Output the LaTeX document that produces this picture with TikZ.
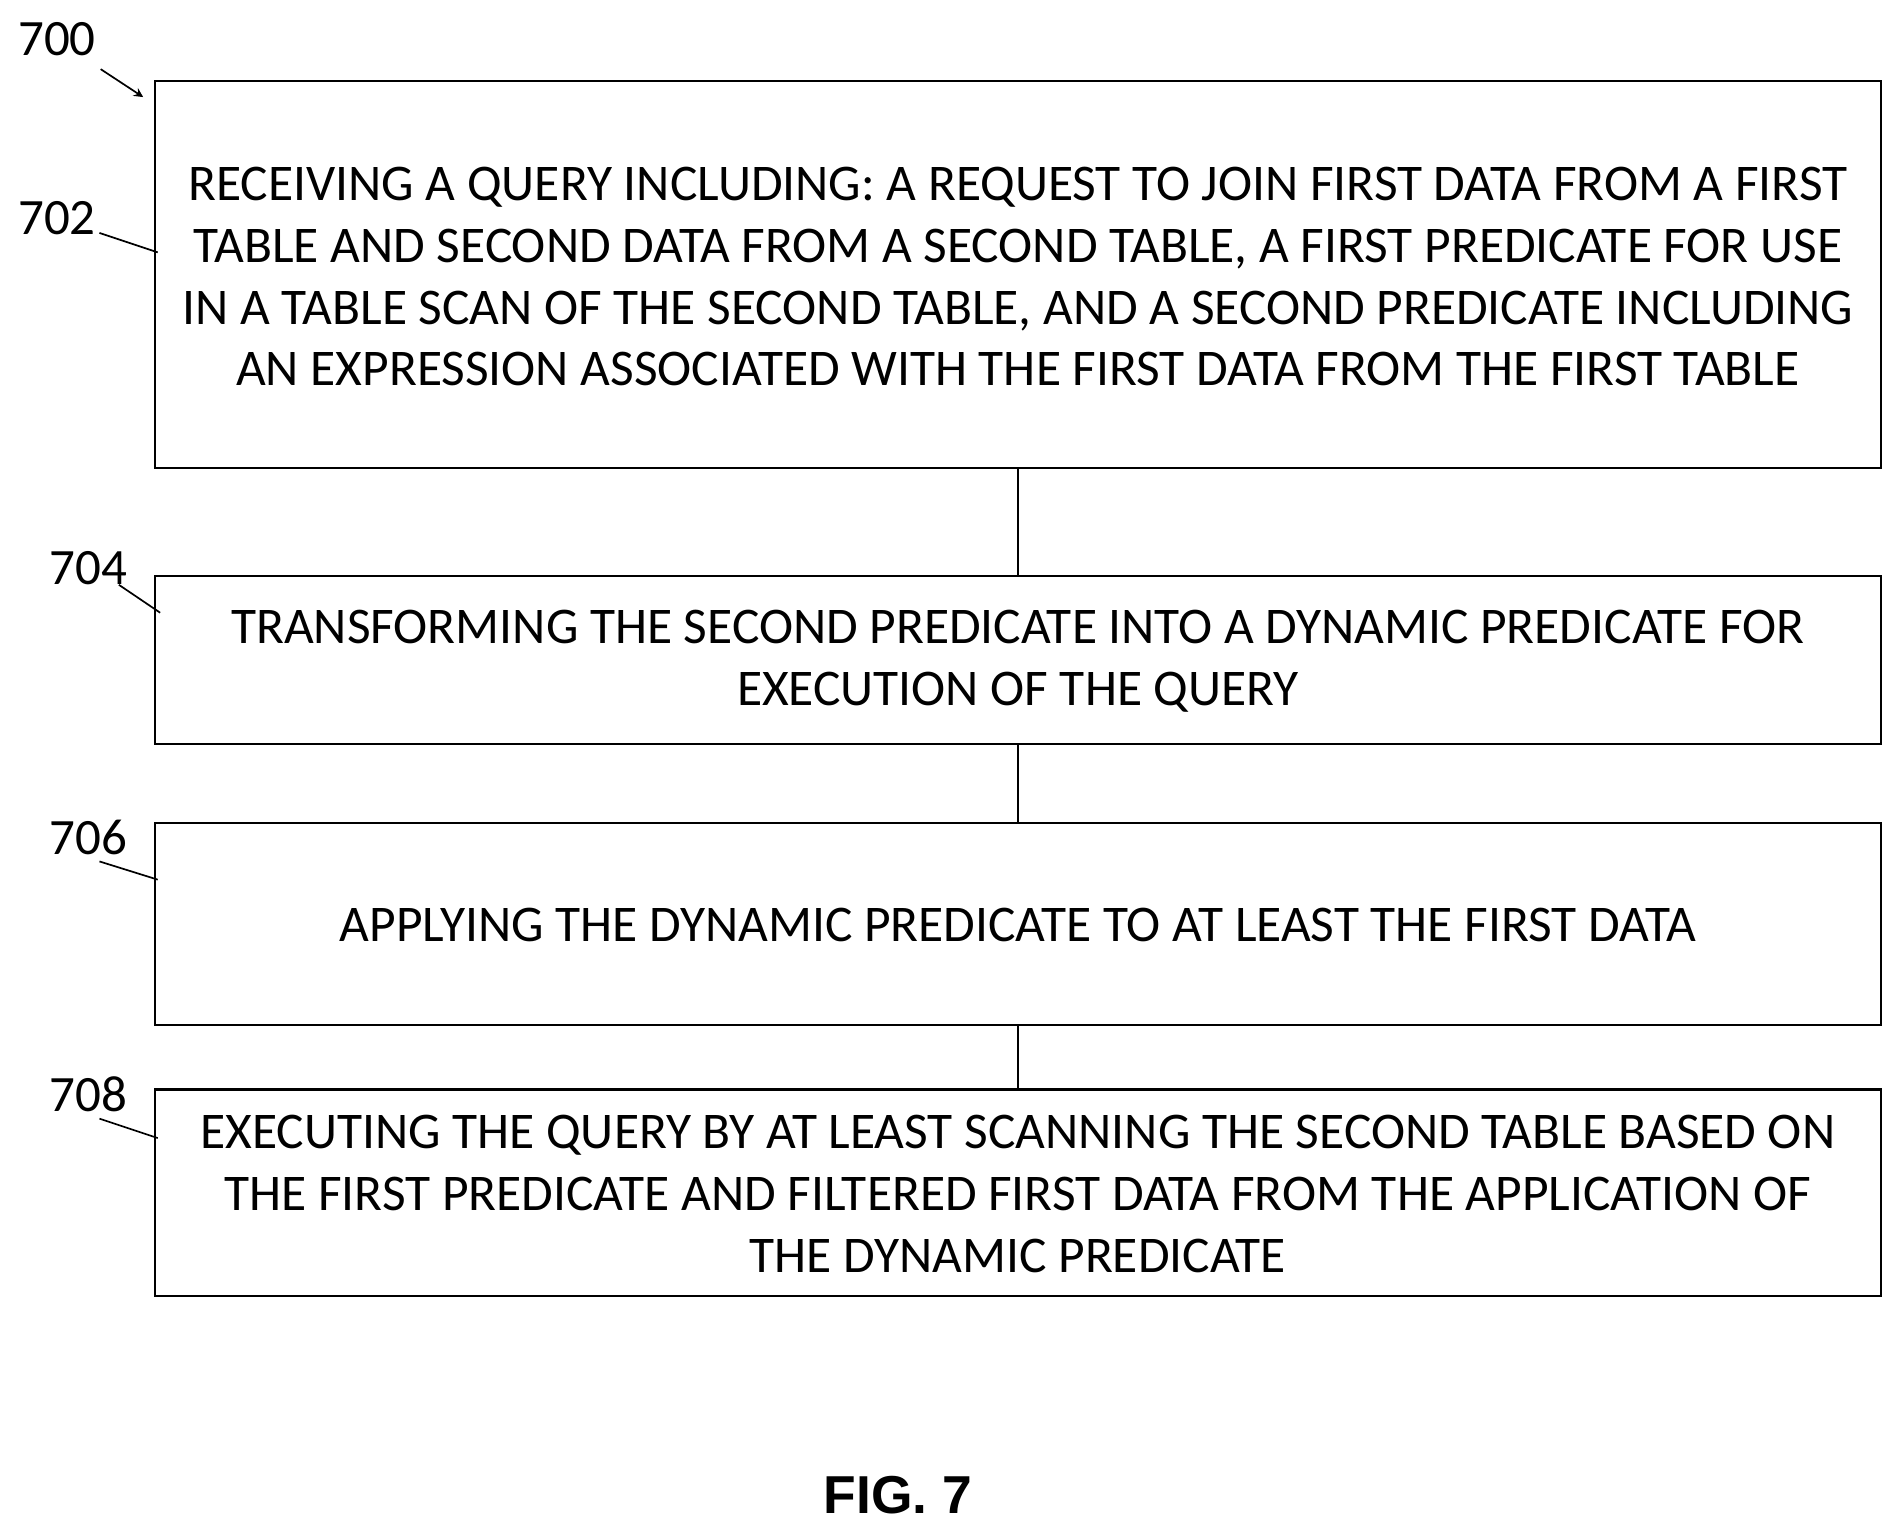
\documentclass[tikz,border=0pt]{standalone}
\usepackage{fontspec}
\setmainfont{Carlito}
\newfontfamily\figfont{Liberation Sans}
\begin{document}
\begin{tikzpicture}[x=0.5pt,y=-0.5pt,
  box/.style={draw,line width=0.9pt},
  txt/.style={align=center,font=\fontsize{21.2}{25.5}\selectfont},
  lbl/.style={font=\fontsize{21}{24}\selectfont},
  lead/.style={line width=0.7pt}]
\useasboundingbox (0,0) rectangle (1566,1264);
\draw[box] (128,67) rectangle (1550,386);
\draw[box] (128,475) rectangle (1550,613);
\draw[box] (128,678) rectangle (1550,845);
\draw[box] (128,898) rectangle (1550,1068);
\node[txt] (t1) at (839,228) {RECEIVING A QUERY INCLUDING: A REQUEST TO JOIN FIRST DATA FROM A FIRST\\TABLE AND SECOND DATA FROM A SECOND TABLE, A FIRST PREDICATE FOR USE\\IN A TABLE SCAN OF THE SECOND TABLE, AND A SECOND PREDICATE INCLUDING\\AN EXPRESSION ASSOCIATED WITH THE FIRST DATA FROM THE FIRST TABLE};
\node[txt] (t2) at (839,545) {TRANSFORMING THE SECOND PREDICATE INTO A DYNAMIC PREDICATE FOR\\EXECUTION OF THE QUERY};
\node[txt] (t3) at (839,762) {APPLYING THE DYNAMIC PREDICATE TO AT LEAST THE FIRST DATA};
\node[txt] (t4) at (839,984) {EXECUTING THE QUERY BY AT LEAST SCANNING THE SECOND TABLE BASED ON\\THE FIRST PREDICATE AND FILTERED FIRST DATA FROM THE APPLICATION OF\\THE DYNAMIC PREDICATE};
\coordinate (b1) at (839,386); \coordinate (a2) at (839,475);
\coordinate (b2) at (839,613); \coordinate (a3) at (839,678);
\coordinate (b3) at (839,845); \coordinate (a4) at (839,898);
\draw[lead] (b1)--(a2); \draw[lead] (b2)--(a3); \draw[lead] (b3)--(a4);
\node[lbl] (l700) at (47,32) {700};
\node[lbl] (l702) at (47,180) {702};
\node[lbl] (l704) at (73,468) {704};
\node[lbl] (l706) at (73,690) {706};
\node[lbl] (l708) at (73,902) {708};
\coordinate (p0) at (83,57); \coordinate (q0) at (118,80);
\draw[lead,-stealth] (p0)--(q0);
\coordinate (p2) at (82,192); \coordinate (q2) at (130,208); \draw[lead] (p2)--(q2);
\coordinate (p4) at (98,482); \coordinate (q4) at (132,505); \draw[lead] (p4)--(q4);
\coordinate (p6) at (82,710); \coordinate (q6) at (130,725); \draw[lead] (p6)--(q6);
\coordinate (p8) at (82,922); \coordinate (q8) at (130,938); \draw[lead] (p8)--(q8);
\node[font=\figfont\bfseries\fontsize{22}{26}\selectfont] (fig) at (740,1232) {FIG. 7};
\end{tikzpicture}
\end{document}
